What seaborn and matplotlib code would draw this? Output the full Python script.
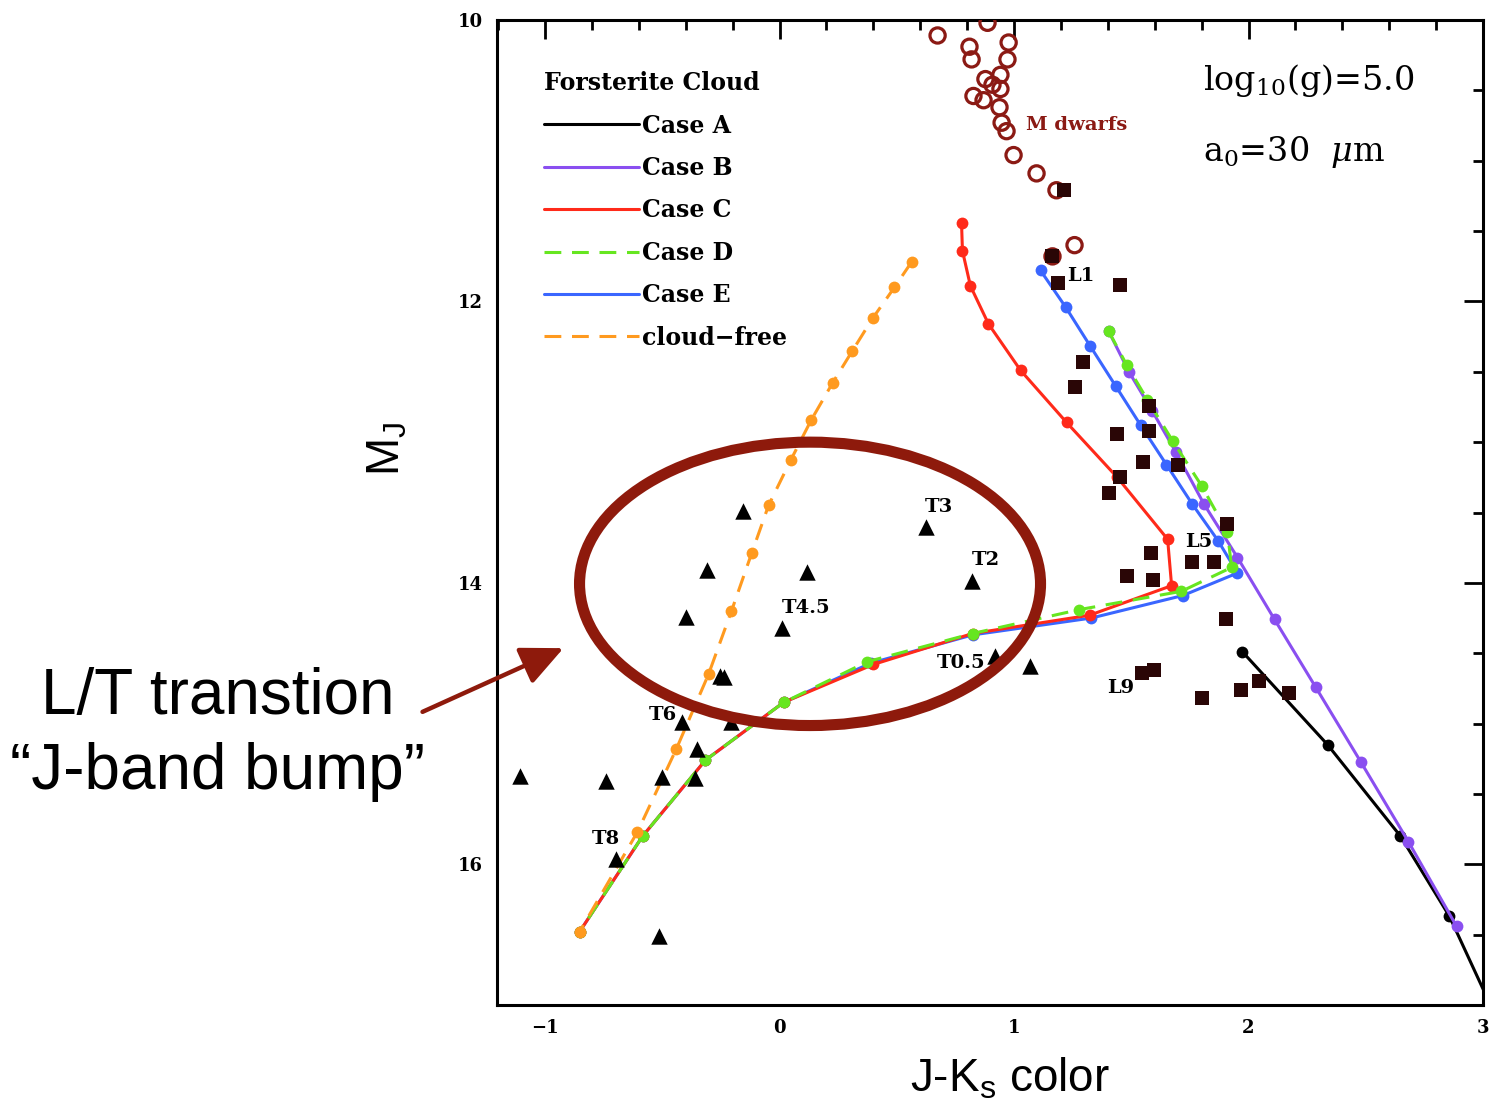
import numpy as np
import pandas as pd
import matplotlib
matplotlib.use("Agg")
import matplotlib.pyplot as plt
import seaborn as sns
from matplotlib.lines import Line2D
from matplotlib.patches import Ellipse, FancyArrowPatch
from matplotlib.ticker import MultipleLocator

# ---------------- data ----------------
caseA_x = [1.974, 2.337, 2.648, 2.857, 3.04]
caseA_y = [14.49, 15.15, 15.80, 16.37, 17.03]

caseB_x = [1.403, 1.49, 1.59, 1.69, 1.81, 1.953, 2.111, 2.286, 2.478, 2.682, 2.887]
caseB_y = [12.21, 12.50, 12.78, 13.07, 13.44, 13.82, 14.26, 14.74, 15.27, 15.84, 16.44]

caseC_x = [0.776, 0.780, 0.814, 0.891, 1.028, 1.224, 1.44, 1.655, 1.672, 1.322, 0.823, 0.400, 0.017, -0.316, -0.584, -0.853]
caseC_y = [11.44, 11.64, 11.89, 12.16, 12.49, 12.86, 13.25, 13.69, 14.02, 14.23, 14.36, 14.58, 14.85, 15.26, 15.80, 16.48]

caseD_x = [1.403, 1.480, 1.569, 1.676, 1.800, 1.910, 1.928, 1.714, 1.279, 0.823, 0.375, 0.017, -0.316, -0.584, -0.853]
caseD_y = [12.21, 12.45, 12.70, 12.99, 13.31, 13.64, 13.89, 14.06, 14.19, 14.36, 14.56, 14.85, 15.26, 15.80, 16.48]

caseE_x = [1.113, 1.220, 1.326, 1.433, 1.54, 1.65, 1.76, 1.87, 1.953, 1.72, 1.33, 0.823, 0.39, 0.017, -0.316, -0.584, -0.853]
caseE_y = [11.78, 12.04, 12.32, 12.60, 12.88, 13.16, 13.44, 13.70, 13.93, 14.09, 14.25, 14.37, 14.57, 14.85, 15.26, 15.80, 16.48]

free_x = [0.563, 0.490, 0.397, 0.311, 0.226, 0.136, 0.047, -0.047, -0.119, -0.205, -0.303, -0.440, -0.606, -0.853]
free_y = [11.72, 11.90, 12.12, 12.35, 12.58, 12.84, 13.13, 13.45, 13.79, 14.20, 14.65, 15.18, 15.77, 16.48]

mdw_x = [0.674, 0.887, 0.810, 0.819, 0.977, 0.972, 0.878, 0.942, 0.908, 0.942, 0.827, 0.870,
         0.938, 0.947, 0.968, 0.998, 1.096, 1.181, 1.258, 1.164]
mdw_y = [10.11, 10.02, 10.19, 10.28, 10.16, 10.28, 10.42, 10.39, 10.46, 10.49, 10.54, 10.57,
         10.62, 10.73, 10.79, 10.96, 11.09, 11.21, 11.60, 11.68]

ldw_x = [1.215, 1.164, 1.186, 1.450, 1.292, 1.258, 1.574, 1.441, 1.574, 1.548, 1.701, 1.450, 1.407,
         1.910, 1.586, 1.480, 1.591, 1.761, 1.851, 1.902, 1.544, 1.599, 1.800, 1.966, 2.043, 2.171]
ldw_y = [11.21, 11.68, 11.87, 11.88, 12.43, 12.61, 12.74, 12.94, 12.92, 13.14, 13.16, 13.25, 13.36,
         13.58, 13.79, 13.95, 13.98, 13.85, 13.85, 14.26, 14.64, 14.62, 14.82, 14.76, 14.70, 14.78]

tdw_x = [-0.158, 0.623, -0.311, 0.119, 0.819, -0.401, 0.009, -0.255, -0.235, 0.917, 1.066,
         -0.414, -0.209, -0.354, -0.742, -0.503, -0.362, -0.699, -0.512, -1.109]
tdw_y = [13.49, 13.60, 13.91, 13.92, 13.99, 14.24, 14.32, 14.66, 14.67, 14.52, 14.59,
         14.99, 14.99, 15.18, 15.41, 15.38, 15.39, 15.96, 16.51, 15.37]

spt_labels = ["T3", "T2", "T4.5", "T0.5", "T6", "T8", "L1", "L5", "L9"]
spt_x = [0.618, 0.819, 0.0085, 0.67, -0.559, -0.80, 1.228, 1.731, 1.399]
spt_y = [13.46, 13.84, 14.18, 14.57, 14.94, 15.82, 11.82, 13.71, 14.75]

xtick_vals = [-1, 0, 1, 2, 3]
xtick_labels = ["\u22121", "0", "1", "2", "3"]
ytick_vals = [10, 12, 14, 16]
ytick_labels = ["10", "12", "14", "16"]

legend_labels = ["Case A", "Case B", "Case C", "Case D", "Case E", "cloud\u2212free"]

# ---------------- style ----------------
sns.set_style("white")
plt.rcParams["font.family"] = ["DejaVu Serif"]
plt.rcParams["font.weight"] = "normal"
plt.rcParams["mathtext.fontset"] = "dejavuserif"
for k in ["text.color", "axes.labelcolor", "xtick.color", "ytick.color", "axes.edgecolor"]:
    plt.rcParams[k] = "black"

C_A = "#000000"
C_B = "#8a4ff0"
C_C = "#ff2a1a"
C_D = "#66e620"
C_E = "#3a66ff"
C_F = "#ff9a1f"
C_M = "#8b1a14"
C_L = "#2a0606"
C_RING = "#8e1a0c"

W, H = 1491, 1107
fig = plt.figure(figsize=(W / 100, H / 100), dpi=100)
ax = fig.add_axes([497 / W, 1 - 1005 / H, 986 / W, 985 / H])

DASH = (0, (5.5, 3.5))


def curve(x, y, color, ls="-", z=2):
    sns.lineplot(x=x, y=y, ax=ax, sort=False, estimator=None, color=color, lw=2.2,
                 linestyle=ls, marker="o", markersize=8.5, markeredgecolor=color,
                 markeredgewidth=0, legend=False, zorder=z)


curve(caseA_x, caseA_y, C_A, z=2)
curve(caseB_x, caseB_y, C_B, z=2.1)
curve(caseE_x, caseE_y, C_E, z=2.2)
curve(caseC_x, caseC_y, C_C, z=2.3)
curve(caseD_x, caseD_y, C_D, ls=DASH, z=2.4)
curve(free_x, free_y, C_F, ls=DASH, z=2.5)

sns.scatterplot(x=mdw_x, y=mdw_y, ax=ax, marker="o", s=120, color=C_M, facecolors="none",
                edgecolor=C_M, linewidth=2.3, zorder=3, legend=False)
sns.scatterplot(x=ldw_x, y=ldw_y, ax=ax, marker="s", s=110, color=C_L, edgecolor=C_L,
                linewidth=0, zorder=3.2, legend=False)
sns.scatterplot(x=tdw_x, y=tdw_y, ax=ax, marker="^", s=140, color="black", edgecolor="black",
                linewidth=0, zorder=3.2, legend=False)

for lab, x, y in zip(spt_labels, spt_x, spt_y):
    ax.text(x, y, lab, fontsize=14, fontweight="bold", ha="left", va="center", zorder=4)

ax.text(1.053, 10.745, "M dwarfs", fontsize=14, fontweight="bold", color=C_M,
        ha="left", va="center", zorder=4)

ax.text(1.804, 10.43, "log$_{10}$(g)=5.0", fontsize=24, fontweight="normal",
        ha="left", va="center")
ax.text(1.804, 10.94, "a$_0$=30  $\\mu$m", fontsize=24, fontweight="normal",
        ha="left", va="center")

# axes
ax.set_xlim(-1.205, 3.0)
ax.set_ylim(17.0, 10.0)
ax.set_xticks(xtick_vals)
ax.set_xticklabels(xtick_labels, fontweight="bold", fontsize=13)
ax.set_yticks(ytick_vals)
ax.set_yticklabels(ytick_labels, fontweight="bold", fontsize=13)
ax.xaxis.set_minor_locator(MultipleLocator(0.2))
ax.yaxis.set_minor_locator(MultipleLocator(0.5))
ax.tick_params(which="both", direction="in", top=True, right=True, width=2, colors="black")
ax.tick_params(which="major", length=14, pad=10)
ax.tick_params(which="minor", length=7)
for s in ax.spines.values():
    s.set_linewidth(2.2)
    s.set_color("black")

ax.set_xlabel("J-K$_\\mathregular{s}$ color", fontsize=33, family="Liberation Sans",
              fontweight="normal", color="black")
ax.set_ylabel("M$_\\mathregular{J}$", fontsize=33, family="Liberation Sans",
              fontweight="normal", color="black")
ax.xaxis.set_label_coords(0.52, -0.052)
ax.yaxis.set_label_coords(-0.088, 0.565)

# legend
handles = [
    Line2D([], [], color=C_A, lw=2.2),
    Line2D([], [], color=C_B, lw=2.2),
    Line2D([], [], color=C_C, lw=2.2),
    Line2D([], [], color=C_D, lw=2.2, ls=DASH),
    Line2D([], [], color=C_E, lw=2.2),
    Line2D([], [], color=C_F, lw=2.2, ls=DASH),
]
leg = ax.legend(handles, legend_labels, title="Forsterite Cloud", loc="upper left",
                bbox_to_anchor=(0.048, 0.948), frameon=False,
                prop={"size": 17, "weight": "bold", "family": "DejaVu Serif"},
                handlelength=4.0, handletextpad=0.12,
                labelspacing=0.78, borderaxespad=0, borderpad=0)
leg._legend_box.align = "left"
leg.get_title().set_fontweight("bold")
leg.get_title().set_fontsize(17)

# highlight ellipse and arrow
ax.add_patch(Ellipse((0.130, 14.007), width=1.966, height=2.014, fill=False,
                     edgecolor=C_RING, lw=8, zorder=5))
arrow = FancyArrowPatch((420 / W, 1 - 713 / H), (566 / W, 1 - 647 / H),
                        transform=fig.transFigure,
                        arrowstyle="-|>,head_length=1.3,head_width=0.6",
                        mutation_scale=20, color=C_RING, lw=3.2)
fig.add_artist(arrow)

fig.text(218 / W, 1 - 697 / H, "L/T transtion", fontsize=46, family="Liberation Sans",
         fontweight="normal", ha="center", va="center", color="black")
fig.text(218 / W, 1 - 772 / H, "\u201cJ-band bump\u201d", fontsize=46, family="Liberation Sans",
         fontweight="normal", ha="center", va="center", color="black")

fig.savefig("out.png", dpi=100)
